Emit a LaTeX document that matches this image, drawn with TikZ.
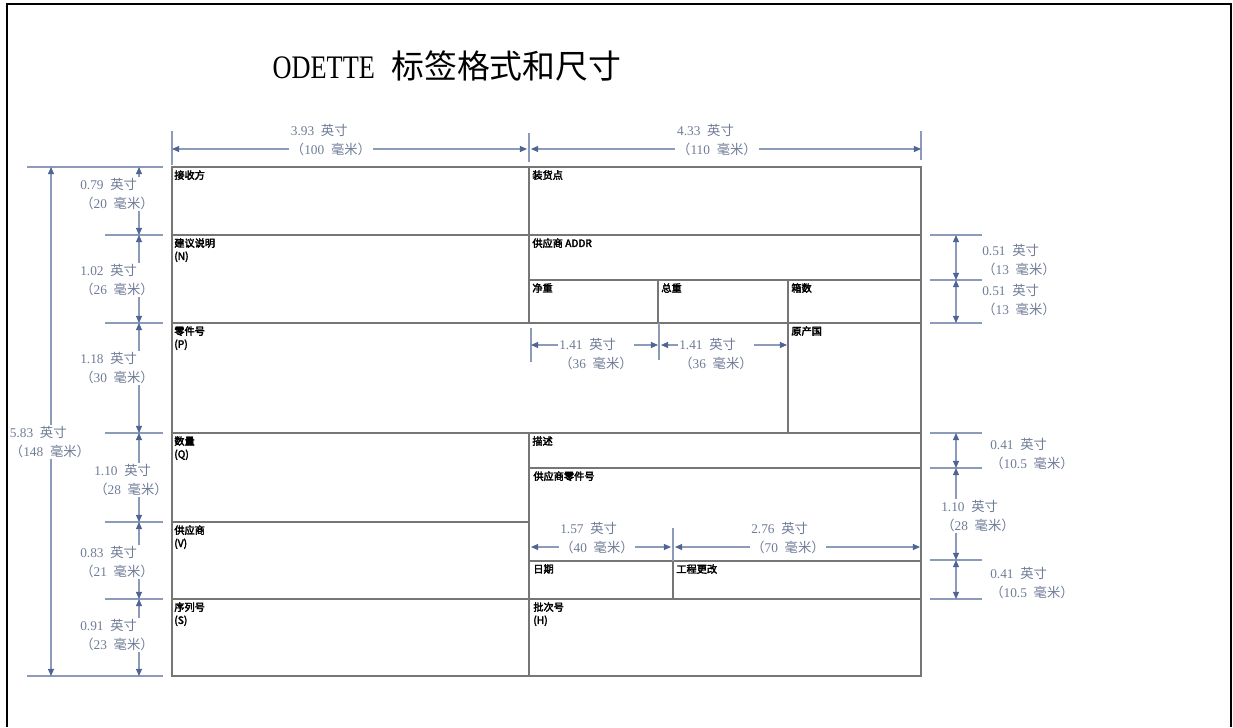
\documentclass[tikz,border=0pt]{standalone}
\usepackage{fontspec}
\setmainfont{Liberation Serif}
\newfontfamily\cjk{Noto Sans CJK SC}
\newfontfamily\boxfont[FakeBold=3]{Noto Sans CJK SC}
\newfontfamily\titlefont[FakeStretch=0.8]{Liberation Serif}
\usetikzlibrary{arrows.meta}
\definecolor{dimtext}{RGB}{112,125,152}
\definecolor{dimline}{RGB}{140,155,185}
\definecolor{dimtip}{RGB}{80,100,150}
\definecolor{boxline}{RGB}{118,118,118}
\newcommand\dimtxt[2]{#1\enspace{\cjk 英寸}\\{\cjk （}#2\enspace{\cjk 毫米）}}

\begin{document}
\begin{tikzpicture}[x=0.02cm,y=-0.02cm,
  frame/.style={draw=black,line width=1.3pt},
  box/.style={draw=boxline,line width=1pt},
  ext/.style={draw=dimline,line width=0.6pt},
  dim/.style={draw=dimline,line width=0.6pt,
    {Triangle[length=4pt,width=3.4pt,color=dimtip]}-{Triangle[length=4pt,width=3.4pt,color=dimtip]}},
  dimlab/.style={text=dimtext,fill=white,inner sep=1pt,align=left,
    font=\fontsize{7.6}{10.6}\selectfont},
  lab/.style={anchor=north west,inner sep=0pt,align=left,
    font=\boxfont\fontsize{5.8}{7.4}\selectfont}]
\useasboundingbox (0,0) rectangle (1233,727);

\draw (447,66) node[font=\fontsize{18.7}{20}\selectfont] (title) {{\titlefont ODETTE}\enspace{\cjk 标签格式和尺寸}};

% label grid
\draw[box] (172,167) rectangle (921,676);
\draw[box] (172,235) -- (921,235) (529,280) -- (921,280) (172,323) -- (921,323)
  (172,433) -- (921,433) (529,468) -- (921,468) (172,522) -- (529,522)
  (529,561) -- (921,561) (172,599) -- (921,599);
\draw[box] (529,167) -- (529,323) (529,433) -- (529,676) (658,280) -- (658,323)
  (788,280) -- (788,433) (673,561) -- (673,599);

\draw (174,170) node[lab] (recv) {接收方};
\draw (532,170) node[lab] (ship) {装货点};
\draw (174,238) node[lab] (advice) {建议说明\\(N)};
\draw (532,238) node[lab] (saddr) {供应商 ADDR};
\draw (532,283) node[lab] (net) {净重};
\draw (661,283) node[lab] (gross) {总重};
\draw (791,283) node[lab] (boxes) {箱数};
\draw (174,326) node[lab] (part) {零件号\\(P)};
\draw (791,326) node[lab] (origin) {原产国};
\draw (174,436) node[lab] (qty) {数量\\(Q)};
\draw (532,436) node[lab] (desc) {描述};
\draw (533,471) node[lab] (spart) {供应商零件号};
\draw (174,525) node[lab] (supp) {供应商\\(V)};
\draw (533,564) node[lab] (date) {日期};
\draw (676,564) node[lab] (eng) {工程更改};
\draw (174,602) node[lab] (serial) {序列号\\(S)};
\draw (533,602) node[lab] (batch) {批次号\\(H)};

% dimension coordinates
\foreach \n/\y in {a/167,b/235,c/323,d/433,e/522,f/599,g/676}
  \coordinate (L\n) at (139,\y);
\foreach \n/\y in {a/235,b/280,c/323,d/433,e/468,f/560,g/599}
  \coordinate (R\n) at (956,\y);
\coordinate (T0) at (172,149); \coordinate (T1) at (527,149);
\coordinate (T2) at (531,149); \coordinate (T3) at (921,149);
\coordinate (H0) at (51,167);  \coordinate (H1) at (51,676);
\coordinate (P0) at (531,345); \coordinate (P1) at (658,345);
\coordinate (P2) at (661,345); \coordinate (P3) at (787,345);
\coordinate (D0) at (531,547); \coordinate (D1) at (671,547);
\coordinate (D2) at (675,547); \coordinate (D3) at (920,547);

% extension lines
\foreach \y in {235,323,433,522,599}
  \draw[ext] (105,\y) -- (163,\y);
\draw[ext] (27,167) -- (163,167) (27,676) -- (163,676);
\foreach \y in {235,280,323,433,468,560,599}
  \draw[ext] (930,\y) -- (982,\y);
\draw[ext] (172,131) -- (172,165) (529,133) -- (529,162) (921,131) -- (921,160);
\draw[ext] (531,328) -- (531,362) (659,323) -- (659,360) (673,528) -- (673,561);

% dimensions
\draw[dim] (H0) -- (H1);
\draw[dim] (La) -- (Lb); \draw[dim] (Lb) -- (Lc); \draw[dim] (Lc) -- (Ld);
\draw[dim] (Ld) -- (Le); \draw[dim] (Le) -- (Lf); \draw[dim] (Lf) -- (Lg);
\draw[dim] (Ra) -- (Rb); \draw[dim] (Rb) -- (Rc);
\draw[dim] (Rd) -- (Re); \draw[dim] (Re) -- (Rf); \draw[dim] (Rf) -- (Rg);
\draw[dim] (T0) -- (T1); \draw[dim] (T2) -- (T3);
\draw[dim] (P0) -- (P1); \draw[dim] (P2) -- (P3);
\draw[dim] (D0) -- (D1); \draw[dim] (D2) -- (D3);

\draw (331,140) node[dimlab] (w100) {\dimtxt{3.93}{100}};
\draw (717,140) node[dimlab] (w110) {\dimtxt{4.33}{110}};
\draw (50,442) node[dimlab] (h148) {\dimtxt{5.83}{148}};
\draw (117,194) node[dimlab] (h20) {\dimtxt{0.79}{20}};
\draw (117,280) node[dimlab] (h26) {\dimtxt{1.02}{26}};
\draw (117,368) node[dimlab] (h30) {\dimtxt{1.18}{30}};
\draw (131,480) node[dimlab] (h28) {\dimtxt{1.10}{28}};
\draw (117,562) node[dimlab] (h21) {\dimtxt{0.83}{21}};
\draw (117,635) node[dimlab] (h23) {\dimtxt{0.91}{23}};
\draw (596,354) node[dimlab] (w36a) {\dimtxt{1.41}{36}};
\draw (716,354) node[dimlab] (w36b) {\dimtxt{1.41}{36}};
\draw (597,538) node[dimlab] (w40) {\dimtxt{1.57}{40}};
\draw (788,538) node[dimlab] (w70) {\dimtxt{2.76}{70}};
\draw (1019,260) node[dimlab] (h13a) {\dimtxt{0.51}{13}};
\draw (1019,300) node[dimlab] (h13b) {\dimtxt{0.51}{13}};
\draw (1032,454) node[dimlab] (h105a) {\dimtxt{0.41}{10.5}};
\draw (978,516) node[dimlab] (h28r) {\dimtxt{1.10}{28}};
\draw (1032,583) node[dimlab] (h105b) {\dimtxt{0.41}{10.5}};

\draw[frame] (7,727) -- (7,4) -- (1231,4) -- (1231,727);
\end{tikzpicture}
\end{document}
